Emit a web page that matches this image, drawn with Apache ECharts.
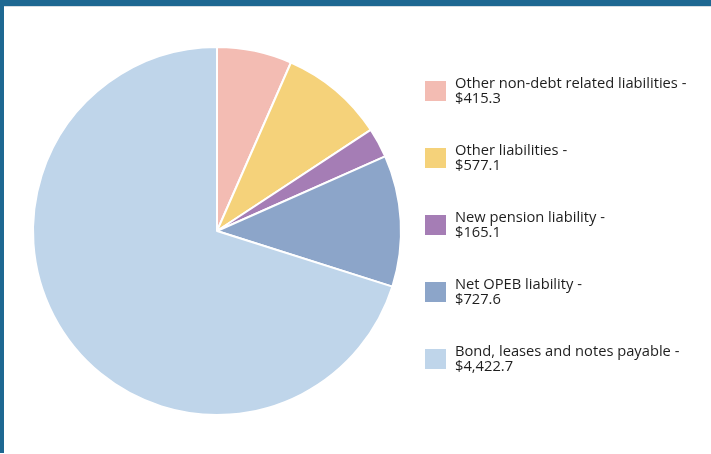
<!DOCTYPE html>
<html>
<head>
<meta charset="utf-8">
<script src="https://cdn.jsdelivr.net/npm/echarts@6/dist/echarts.min.js"></script>
<style>
  html, body { margin: 0; padding: 0; background: #ffffff; }
  #frame { position: absolute; left: 0; top: 0; width: 707px; height: 447px;
           border-top: 6px solid #1e6892; border-left: 4px solid #1e6892; }
  #frame::before { content: ""; position: absolute; left: 0; top: 0; right: 0; height: 1px; background: #d6dde3; }
  #main { position: absolute; left: 0; top: 0; width: 711px; height: 454px; }
</style>
</head>
<body>
<div id="frame"></div>
<div id="main"></div>
<script>
const categories = [
  'Other non-debt related liabilities',
  'Other liabilities',
  'New pension liability',
  'Net OPEB liability',
  'Bond, leases and notes payable'
];
const values = [415.3, 577.1, 165.1, 727.6, 4422.7];
const valueLabels = ['$415.3', '$577.1', '$165.1', '$727.6', '$4,422.7'];
const colors = ['#f3bcb3', '#f5d27a', '#a57db5', '#8ca5c9', '#bfd5ea'];

const data = categories.map((c, i) => ({ name: c, value: values[i], itemStyle: { color: colors[i] } }));
const labelMap = {};
categories.forEach((c, i) => { labelMap[c] = valueLabels[i]; });

const chart = echarts.init(document.getElementById('main'), null, { renderer: 'canvas' });
chart.setOption({
  backgroundColor: 'transparent',
  animation: false,
  legend: {
    orient: 'vertical',
    left: 423,
    top: 76,
    padding: 0,
    itemWidth: 23,
    itemHeight: 22,
    itemGap: 37,
    icon: 'rect',
    selectedMode: false,
    formatter: name => name + ' -\n' + labelMap[name],
    textStyle: {
      fontFamily: '"Open Sans", sans-serif',
      fontSize: 14.7,
      lineHeight: 15,
      color: '#1e1e1e',
      padding: [0, 0, 0, 3]
    }
  },
  series: [{
    type: 'pie',
    center: [217, 231],
    radius: [0, 184],
    startAngle: 90,
    clockwise: true,
    label: { show: false },
    labelLine: { show: false },
    emphasis: { disabled: true },
    itemStyle: { borderColor: '#ffffff', borderWidth: 2 },
    data: data
  }]
});
</script>
</body>
</html>
